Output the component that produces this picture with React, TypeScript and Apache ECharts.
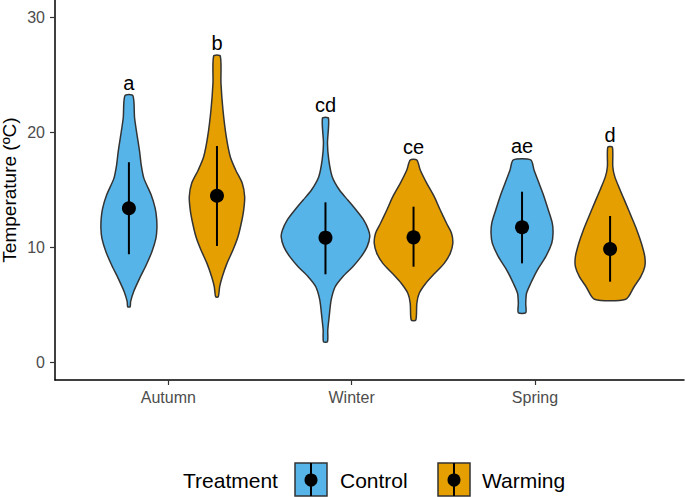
import { useEffect, useRef } from "react";
import * as echarts from "echarts";

const FONT = "'Liberation Sans', Arial, sans-serif";

const seasons = ["Autumn", "Winter", "Spring"];
const treatments = ["Control", "Warming"];
const colors = ["#56B4E9", "#E69F00"];
const yTicks = [0, 10, 20, 30];
const xTicks = [1, 2, 3];

// violin profiles: [temperature, density (half-width)]
const autumnControl = [[4.86, 1.2], [5.3, 1.7], [6.17, 4.7], [7.33, 10.7], [8.49, 17.3], [9.64, 23], [10.8, 27], [11.67, 28], [12.54, 27.7], [13.41, 26.3], [14.57, 22.3], [16.01, 15], [17.17, 12.3], [18.33, 10.7], [21.23, 5.7], [23.19, 4]];
const autumnWarming = [[5.73, 1.3], [6.6, 2.7], [7.47, 5.3], [8.63, 10], [9.79, 16], [10.94, 21], [12.11, 24.3], [13.26, 26.7], [14.42, 27.7], [15.58, 25.3], [16.74, 18.7], [17.89, 13.3], [19.63, 9.3], [21.95, 6], [24.27, 4], [26.64, 3.3]];
const winterControl = [[1.82, 2], [2.84, 2.3], [4.0, 3.7], [5.45, 5.7], [6.6, 9.7], [7.47, 17.3], [8.34, 27.3], [9.21, 35.7], [10.08, 41.7], [10.94, 44.3], [11.53, 43], [12.39, 38.3], [13.26, 30.7], [14.13, 22.3], [15.0, 14], [16.16, 6.7], [17.61, 3.3], [19.06, 2], [21.23, 3]];
const winterWarming = [[3.71, 2.3], [5.16, 3.3], [6.03, 5.7], [6.9, 12.3], [7.77, 21.3], [8.63, 30.7], [9.5, 36.7], [10.37, 39.3], [11.24, 38], [12.11, 33], [13.26, 26.7], [14.42, 20.7], [15.58, 13.3], [16.74, 6.7], [17.61, 3.3]];
const springControl = [[4.34, 3.7], [5.16, 3.7], [6.03, 4.5], [6.9, 8.7], [8.05, 15.3], [9.21, 23.7], [10.37, 29.7], [11.24, 31], [12.11, 30.3], [13.26, 26.3], [14.42, 22], [15.58, 17], [16.74, 12], [17.61, 8.7]];
const springWarming = [[5.51, 15.7], [6.6, 24], [7.47, 30.7], [8.34, 34.7], [9.21, 34.7], [10.37, 31.3], [11.53, 26.7], [12.68, 21.3], [13.84, 15.7], [15.0, 10], [16.16, 4.7], [17.02, 2.7], [18.71, 2.3]];

const profiles = [autumnControl, autumnWarming, winterControl, winterWarming, springControl, springWarming];
const means = [13.41, 14.5, 10.86, 10.89, 11.76, 9.88];
const lows = [9.42, 10.14, 7.68, 8.34, 8.63, 7.04];
const highs = [17.41, 18.82, 13.93, 13.55, 14.85, 12.74];
const letters = ["a", "b", "cd", "ce", "ae", "d"];
const letterY = [24.3, 27.8, 22.4, 18.74, 18.8, 19.8];

const DODGE = 0.224;
const DENSITY_TO_WIDTH = 1 / 196.6;

const xPos = (i: number) => Math.floor(i / 2) + 1 + (i % 2 === 0 ? -DODGE : DODGE);

export default function App() {
  const ref = useRef<HTMLDivElement>(null);
  useEffect(() => {
    if (!ref.current) return;
    const chart = echarts.init(ref.current, null, { renderer: "svg" });
    const idx = profiles.map((_, i) => i);

    const legendEls: any[] = [
      { type: "text", x: 183, y: 480, style: { text: "Treatment", fontSize: 21, fill: "#000", verticalAlign: "middle", fontFamily: FONT } },
    ];
    const keyX = [295, 438];
    const textX = [340, 482];
    treatments.forEach((t, k) => {
      legendEls.push(
        { type: "rect", shape: { x: keyX[k], y: 463, width: 32, height: 33 }, style: { fill: colors[k], stroke: "#333", lineWidth: 1.5 } },
        { type: "line", shape: { x1: keyX[k] + 16, y1: 463, x2: keyX[k] + 16, y2: 496 }, style: { stroke: "#000", lineWidth: 2 } },
        { type: "circle", shape: { cx: keyX[k] + 16, cy: 480, r: 6.5 }, style: { fill: "#000" } },
        { type: "text", x: textX[k], y: 480, style: { text: t, fontSize: 21, fill: "#000", verticalAlign: "middle", fontFamily: FONT } }
      );
    });

    chart.setOption({
      animation: false,
      backgroundColor: "#fff",
      grid: { left: 55, right: 1, top: 0, bottom: 117, containLabel: false, outerBoundsMode: "none" },
      xAxis: [
        {
          type: "value",
          min: 0.382,
          max: 3.813,
          axisLine: { show: true, onZero: false, lineStyle: { color: "#000", width: 1.5 } },
          axisTick: { show: true, customValues: xTicks, length: 5, lineStyle: { color: "#333", width: 1.2 } },
          axisLabel: {
            customValues: xTicks,
            formatter: (v: number) => seasons[Math.round(v) - 1] ?? "",
            color: "#4d4d4d",
            fontSize: 16,
            margin: 9,
            fontFamily: FONT,
          },
          splitLine: { show: false },
        },
        { type: "value", min: 0.4, max: 3.6, show: false },
      ],
      yAxis: {
        type: "value",
        min: -1.5,
        max: 31.5,
        name: "Temperature (ºC)",
        nameLocation: "middle",
        nameGap: 36,
        nameMoveOverlap: false,
        nameTextStyle: { fontSize: 19, color: "#000", fontFamily: FONT },
        axisLine: { show: true, onZero: false, lineStyle: { color: "#000", width: 1.5 } },
        axisTick: { show: true, customValues: yTicks, length: 5, lineStyle: { color: "#333", width: 1.2 } },
        axisLabel: { customValues: yTicks, color: "#4d4d4d", fontSize: 16, margin: 10, fontFamily: FONT },
        splitLine: { show: false },
      },
      graphic: { elements: legendEls },
      series: [
        {
          type: "custom",
          xAxisIndex: 1,
          yAxisIndex: 0,
          data: idx.map((i) => [xPos(i), means[i], i]),
          encode: { x: 0, y: 1 },
          renderItem: (_p: any, api: any) => {
            const i = api.value(2);
            const xc = api.value(0);
            const prof = profiles[i];
            const left = prof.map(([t, d]) => api.coord([xc - d * DENSITY_TO_WIDTH, t]));
            const right = prof
              .slice()
              .reverse()
              .map(([t, d]) => api.coord([xc + d * DENSITY_TO_WIDTH, t]));
            return {
              type: "polygon",
              shape: { points: [...left, ...right], smooth: 0.25 },
              style: { fill: colors[i % 2], stroke: "#333", lineWidth: 1.5 },
            };
          },
          z: 1,
        },
        {
          type: "custom",
          xAxisIndex: 1,
          yAxisIndex: 0,
          data: idx.map((i) => [xPos(i), lows[i], highs[i]]),
          encode: { x: 0, y: [1, 2] },
          renderItem: (_p: any, api: any) => {
            const a = api.coord([api.value(0), api.value(1)]);
            const b = api.coord([api.value(0), api.value(2)]);
            return { type: "line", shape: { x1: a[0], y1: a[1], x2: b[0], y2: b[1] }, style: { stroke: "#000", lineWidth: 2 } };
          },
          z: 2,
        },
        {
          type: "scatter",
          xAxisIndex: 1,
          yAxisIndex: 0,
          data: idx.map((i) => [xPos(i), means[i]]),
          symbolSize: 14,
          itemStyle: { color: "#000", opacity: 1 },
          z: 3,
        },
        {
          type: "custom",
          xAxisIndex: 1,
          yAxisIndex: 0,
          data: idx.map((i) => [xPos(i), letterY[i], i]),
          encode: { x: 0, y: 1 },
          renderItem: (_p: any, api: any) => {
            const p = api.coord([api.value(0), api.value(1)]);
            return {
              type: "text",
              x: p[0],
              y: p[1],
              style: { text: letters[api.value(2)], fontSize: 20, fill: "#000", align: "center", verticalAlign: "middle", fontFamily: FONT },
            };
          },
          z: 4,
        },
      ],
    });
    return () => chart.dispose();
  }, []);
  return <div ref={ref} style={{ position: "fixed", left: 0, top: 0, width: 685, height: 497 }} />;
}
